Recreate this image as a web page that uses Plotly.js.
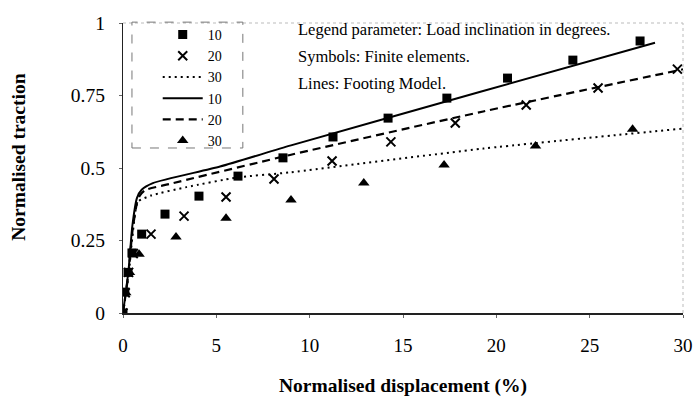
<!DOCTYPE html>
<html><head><meta charset="utf-8">
<script src="https://cdn.plot.ly/plotly-3.0.1.min.js"></script>
<style>html,body{margin:0;padding:0;background:#fff}#c{width:696px;height:406px}</style>
</head><body><div id="c"></div>
<script>
// Finite element results (symbols)
const fe10_x = [0, 0.1, 0.27, 0.48, 1.0, 2.25, 4.07, 6.16, 8.57, 11.25, 14.2, 17.35, 20.6, 24.1, 27.7];
const fe10_y = [0, 0.072, 0.14, 0.207, 0.272, 0.341, 0.403, 0.472, 0.535, 0.607, 0.672, 0.741, 0.81, 0.872, 0.938];
const fe20_x = [0, 0.12, 0.3, 0.55, 1.5, 3.27, 5.52, 8.09, 11.2, 14.35, 17.8, 21.6, 25.45, 29.7];
const fe20_y = [0, 0.07, 0.14, 0.205, 0.272, 0.334, 0.40, 0.462, 0.524, 0.59, 0.655, 0.717, 0.776, 0.841];
const fe30_x = [0, 0.15, 0.35, 0.86, 2.84, 5.52, 9.0, 12.9, 17.2, 22.1, 27.3];
const fe30_y = [0, 0.07, 0.14, 0.203, 0.262, 0.327, 0.39, 0.448, 0.51, 0.576, 0.634];
// Footing model (lines)
const fm10_x = [0, 0.3, 0.5, 0.75, 1.0, 1.6, 5.2, 9.0, 19.1, 28.5];
const fm10_y = [0, 0.15, 0.30, 0.397, 0.425, 0.448, 0.505, 0.578, 0.762, 0.932];
const fm20_x = [0, 0.3, 0.5, 0.75, 0.9, 1.2, 2.5, 8.95, 19.3, 30.0];
const fm20_y = [0, 0.14, 0.28, 0.38, 0.405, 0.424, 0.445, 0.545, 0.695, 0.84];
const fm30_x = [0, 0.3, 0.5, 0.8, 1.5, 3.4, 6.1, 8.95, 19.3, 30.0];
const fm30_y = [0, 0.13, 0.26, 0.383, 0.405, 0.434, 0.467, 0.485, 0.567, 0.636];
const xTicks = [0, 5, 10, 15, 20, 25, 30];
const yTicks = [0, 0.25, 0.5, 0.75, 1];
const yTickText = ['0', '0.25', '0.5', '0.75', '1'];

const serif = 'Liberation Serif, Times New Roman, serif';
const traces = [
  {x: fe10_x, y: fe10_y, mode: 'markers', name: '10', legendrank: 1,
   marker: {symbol: 'square', size: 9, color: '#000'}},
  {x: fe20_x, y: fe20_y, mode: 'markers', name: '20', legendrank: 2,
   marker: {symbol: 'x-thin-open', size: 9, color: '#000', line: {width: 2, color: '#000'}}},
  {x: fm30_x, y: fm30_y, mode: 'lines', name: '30', legendrank: 3,
   line: {color: '#000', width: 2, dash: '2px,4px', shape: 'spline', smoothing: 0.6}},
  {x: fm10_x, y: fm10_y, mode: 'lines', name: '10', legendrank: 4,
   line: {color: '#000', width: 2, shape: 'spline', smoothing: 0.6}},
  {x: fm20_x, y: fm20_y, mode: 'lines', name: '20', legendrank: 5,
   line: {color: '#000', width: 2.2, dash: '8px,5px', shape: 'spline', smoothing: 0.6}},
  {x: fe30_x, y: fe30_y, mode: 'markers', name: '30', legendrank: 6,
   marker: {symbol: 'triangle-up', size: 10, color: '#000'}}
];
const layout = {
  width: 696, height: 406,
  margin: {l: 123, r: 13, t: 23, b: 93},
  paper_bgcolor: '#fff', plot_bgcolor: '#fff',
  font: {family: serif, color: '#000', size: 15},
  showlegend: true,
  legend: {x: 0.062, y: 1.014, xanchor: 'left', yanchor: 'top', bgcolor: 'rgba(0,0,0,0)',
    borderwidth: 0, font: {family: serif, size: 14}, tracegroupgap: 0, itemwidth: 40},
  xaxis: {range: [0, 30], tickvals: xTicks, ticks: 'outside', ticklen: 3, tickcolor: '#666',
    showgrid: false, zeroline: false, showline: true, linecolor: '#222', linewidth: 1.5,
    ticklabelstandoff: 12, tickfont: {family: serif, size: 19},
    title: {text: '<b>Normalised displacement (%)</b>', font: {family: serif, size: 19.5}, standoff: 23}},
  yaxis: {range: [0, 1], tickvals: yTicks, ticktext: yTickText, ticks: 'outside', ticklen: 3, tickcolor: '#666',
    showgrid: false, zeroline: false, showline: true, linecolor: '#222', linewidth: 1.2,
    ticklabelstandoff: 10, tickfont: {family: serif, size: 19.5}},
  shapes: [
    {type: 'line', xref: 'paper', yref: 'paper', x0: 0, x1: 1, y0: 1, y1: 1,
     line: {color: '#bbb', width: 1, dash: 'dot'}},
    {type: 'line', xref: 'paper', yref: 'paper', x0: 1, x1: 1, y0: 0, y1: 1,
     line: {color: '#bbb', width: 1, dash: 'dot'}},
    {type: 'rect', xref: 'paper', yref: 'paper', x0: 0.016, x1: 0.214, y0: 0.569, y1: 1.003,
     line: {color: '#777', width: 1, dash: 'dash'}}
  ],
  annotations: [
    {xref: 'paper', yref: 'paper', x: -0.186, y: 0.538, xanchor: 'center', yanchor: 'middle', showarrow: false,
     textangle: -90, text: '<b>Normalised traction</b>', font: {family: serif, size: 19.5}},
    {xref: 'paper', yref: 'paper', x: 0.309, y: 0.976, xanchor: 'left', yanchor: 'middle', showarrow: false,
     text: 'Legend parameter: Load inclination in degrees.', font: {family: serif, size: 16.5}},
    {xref: 'paper', yref: 'paper', x: 0.309, y: 0.883, xanchor: 'left', yanchor: 'middle', showarrow: false,
     text: 'Symbols: Finite elements.', font: {family: serif, size: 16.5}},
    {xref: 'paper', yref: 'paper', x: 0.309, y: 0.793, xanchor: 'left', yanchor: 'middle', showarrow: false,
     text: 'Lines: Footing Model.', font: {family: serif, size: 16.5}}
  ]
};
Plotly.newPlot('c', traces, layout, {displayModeBar: false, staticPlot: true});
</script></body></html>
